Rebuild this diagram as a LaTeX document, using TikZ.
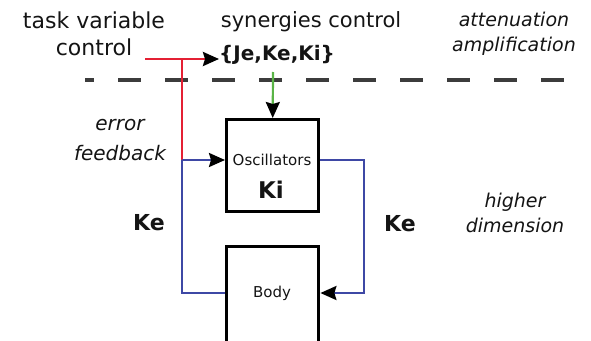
\documentclass[tikz,border=0pt]{standalone}
\usepackage{fontspec}
\setmainfont{DejaVu Sans}
\usetikzlibrary{arrows.meta}
\definecolor{myred}{RGB}{228,32,52}
\definecolor{myblue}{RGB}{62,72,165}
\definecolor{mygreen}{RGB}{90,180,70}
\definecolor{mygray}{RGB}{60,60,60}
\definecolor{txt}{RGB}{20,20,20}
\tikzset{
  box/.style={draw=black,line width=3.4pt,minimum width=92pt,minimum height=92pt,inner sep=0pt},
  arr/.style={-{Stealth[length=16pt,width=14pt,inset=2pt,color=black]}},
  lbl/.style={text=txt,inner sep=0pt,align=center},
}
\begin{document}
\begin{tikzpicture}[x=1pt,y=-1pt]
\useasboundingbox (0,0) rectangle (591,340);
% texts
\node[lbl,font=\fontsize{22}{27}\selectfont] (task) at (94,34) {task variable\\control};
\node[lbl,font=\fontsize{21}{26}\selectfont] (syn) at (311,22) {synergies control};
\node[lbl,font=\fontsize{20}{22}\selectfont\bfseries,anchor=west] (jk) at (219,55) {\{Je,Ke,Ki\}};
\node[lbl,font=\fontsize{19}{25}\selectfont\itshape] (att) at (514,34) {attenuation\\amplification};
\node[lbl,font=\fontsize{20}{30}\selectfont\itshape] (err) at (120,140) {error\\feedback};
\node[lbl,font=\fontsize{19}{25}\selectfont\itshape] (hd) at (515,213) {higher\\dimension};
\node[lbl,font=\fontsize{22}{24}\selectfont\bfseries] (kel) at (149,223) {Ke};
\node[lbl,font=\fontsize{22}{24}\selectfont\bfseries] (ker) at (400,224) {Ke};
% dashed separator
\coordinate (dl) at (85,80);
\coordinate (dr) at (566,80);
\draw[mygray,line width=4pt,dash pattern=on 23pt off 24pt,dash phase=14pt] (dl) -- (dr);
% boxes
\node[box,anchor=north west] (osc) at (225,118) {};
\node[lbl,font=\fontsize{15}{18}\selectfont] (osct) at (272,160) {Oscillators};
\node[lbl,font=\fontsize{23}{25}\selectfont\bfseries] (ki) at (271,190) {Ki};
\node[box,anchor=north west,minimum height=100pt] (body) at (225,245) {};
\node[lbl,font=\fontsize{15}{18}\selectfont] (bodyt) at (272,293) {Body};
% red
\coordinate (rs) at (145,59);
\coordinate (rj) at (182,59);
\coordinate (rb) at (182,160);
\draw[myred,line width=2.8pt,arr] (rs) -- (rs -| jk.west);
\draw[myred,line width=2.8pt] (rj) -- (rb);
% green
\coordinate (gs) at (273,72);
\draw[mygreen,line width=2.2pt,arr] (gs) -- (osc.north);
% blue
\draw[myblue,line width=2.4pt,arr] (rb) -- (osc.west |- rb);
\draw[myblue,line width=2.4pt] (rb) -- (182,293) -- (body.west |- 0,293);
\draw[myblue,line width=2.4pt,arr] (osc.east |- 0,160) -- (364,160) -- (364,293) -- (body.east |- 0,293);
\end{tikzpicture}
\end{document}
